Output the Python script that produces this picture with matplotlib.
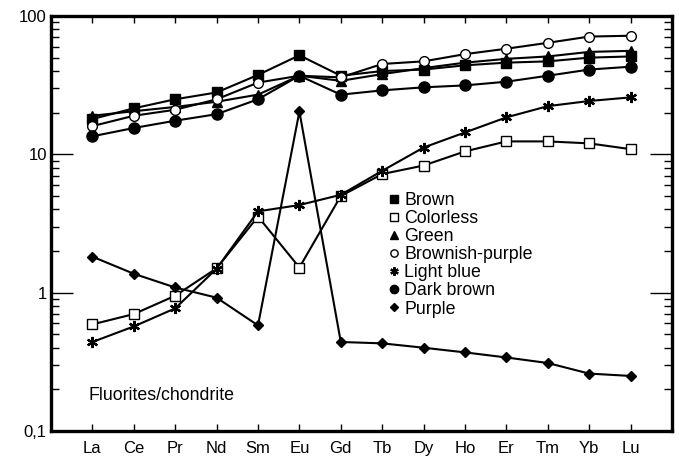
import matplotlib
matplotlib.use("Agg")
import matplotlib.pyplot as plt
from matplotlib.ticker import LogLocator, FixedLocator, FixedFormatter, NullFormatter

plt.rcParams["font.family"] = ["Liberation Sans", "DejaVu Sans"]

elements = ["La", "Ce", "Pr", "Nd", "Sm", "Eu", "Gd", "Tb", "Dy", "Ho", "Er", "Tm", "Yb", "Lu"]

brown = [18, 21.5, 25, 28, 37.5, 52, 37, 40, 41, 44, 46, 47, 50, 51]
colorless = [0.59, 0.70, 0.95, 1.5, 3.55, 1.52, 5.0, 7.2, 8.3, 10.5, 12.4, 12.4, 12, 10.9]
green = [19, 20.5, 22, 24, 27, 37, 34, 38, 42, 46, 49, 51, 55, 56]
brownish_purple = [16, 19, 21, 25, 33, 37, 36, 45, 47, 53, 58, 64, 71, 72]
light_blue = [0.44, 0.57, 0.77, 1.49, 3.87, 4.3, 5.1, 7.6, 11.2, 14.4, 18.5, 22.3, 24.3, 25.8]
dark_brown = [13.5, 15.5, 17.5, 19.5, 25, 37, 27, 29, 30.5, 31.5, 33.5, 37, 41, 43]
purple = [1.82, 1.37, 1.09, 0.92, 0.58, 20.4, 0.44, 0.43, 0.40, 0.37, 0.34, 0.31, 0.26, 0.25]

series = [
    ("Brown", brown, dict(marker="s", mfc="black", ms=7)),
    ("Colorless", colorless, dict(marker="s", mfc="white", ms=7)),
    ("Green", green, dict(marker="^", mfc="black", ms=7)),
    ("Brownish-purple", brownish_purple, dict(marker="o", mfc="white", ms=7)),
    ("Light blue", light_blue, dict(marker=(6, 2, 0), mfc="black", ms=8, mew=1.6)),
    ("Dark brown", dark_brown, dict(marker="o", mfc="black", ms=8)),
    ("Purple", purple, dict(marker="D", mfc="black", ms=5.5)),
]

fig = plt.figure(figsize=(6.79, 4.57), dpi=100)
ax = fig.add_axes([0.0751, 0.0569, 0.9146, 0.9081])

x = list(range(len(elements)))
for name, vals, st in series:
    ax.plot(x, vals, color="black", lw=1.5, mec="black", label=name, **st)

ax.set_yscale("log")
ax.set_ylim(0.1, 100)
ax.set_xlim(-1, 14)

ax.xaxis.set_major_locator(FixedLocator(x))
ax.xaxis.set_major_formatter(FixedFormatter(elements))
ax.yaxis.set_major_locator(FixedLocator([0.1, 1, 10, 100]))
ax.yaxis.set_major_formatter(FixedFormatter(["0,1", "1", "10", "100"]))
ax.yaxis.set_minor_locator(LogLocator(base=10, subs=range(2, 10)))
ax.yaxis.set_minor_formatter(NullFormatter())

ax.tick_params(axis="x", which="major", direction="in", top=True, length=5, width=1,
               labelsize=12, pad=7)
ax.tick_params(axis="y", which="major", direction="in", right=True, length=16, width=1,
               labelsize=12, pad=3)
ax.tick_params(axis="y", which="minor", direction="in", right=True, length=6, width=1)

for sp in ax.spines.values():
    sp.set_linewidth(2.4)

ax.text(0.06, 0.075, "Fluorites/chondrite", transform=ax.transAxes, fontsize=12.8)

leg = ax.legend(loc="upper left", bbox_to_anchor=(0.529, 0.597), frameon=False,
                handlelength=0.6, handletextpad=0.3, labelspacing=0.06,
                fontsize=12.8, borderpad=0, markerscale=0.75)
for h in leg.legend_handles:
    h.set_linestyle("none")

fig.savefig("out.png", dpi=100)
